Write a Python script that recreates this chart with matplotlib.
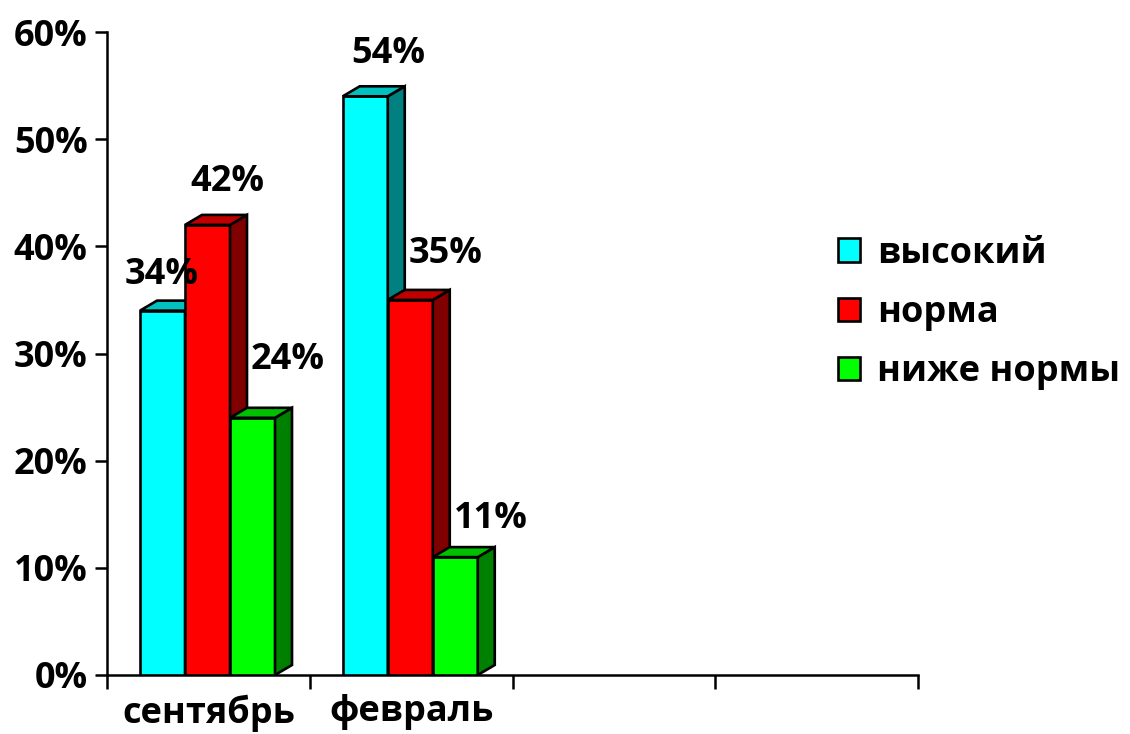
import matplotlib.pyplot as plt
from matplotlib.patches import Polygon, Patch
from matplotlib.ticker import FixedLocator, FuncFormatter

plt.rcParams['font.family'] = ['Open Sans', 'DejaVu Sans']
FW = 'bold'
FS = 26

categories = ['сентябрь', 'февраль', '', '']
series = ['высокий', 'норма', 'ниже нормы']
values = {
    'высокий': [34, 54],
    'норма': [42, 35],
    'ниже нормы': [24, 11],
}
front = ['#00FFFF', '#FF0000', '#00FF00']
top = ['#00C0C0', '#C00000', '#00C000']
side = ['#008080', '#800000', '#008000']
# label offsets in pixels from the top centre of each bar's front face
lab_dx = [[-1, 23], [20, 35], [35, 36]]
lab_dy = [[36, 42], [43, 46], [58, 38]]

W, H = 1130, 734
fig = plt.figure(figsize=(W / 100, H / 100), dpi=100)
x0, x1, y0, y1 = 107, 918, 675, 32
ax = fig.add_axes([x0 / W, 1 - y0 / H, (x1 - x0) / W, (y0 - y1) / H])
ax.set_xlim(0, 4)
ax.set_ylim(0, 60)

px_x = 4 / (x1 - x0)
px_y = 60 / (y0 - y1)
dx, dy = 17 * px_x, 10 * px_y
width = 45 * px_x
start = 33 * px_x
lw = 1.9

for s, name in enumerate(series):
    for i, v in enumerate(values[name]):
        l = i + start + s * width
        r = l + width
        z = 3 + s * 2 + i
        ax.bar(l, v, width=width, align='edge', color=front[s],
               edgecolor='black', linewidth=lw, zorder=z)
        ax.add_patch(Polygon([(r, 0), (r + dx, dy), (r + dx, v + dy), (r, v)],
                             closed=True, facecolor=side[s], edgecolor='black',
                             linewidth=lw, zorder=z, joinstyle='miter'))
        ax.add_patch(Polygon([(l, v), (l + dx, v + dy), (r + dx, v + dy), (r, v)],
                             closed=True, facecolor=top[s], edgecolor='black',
                             linewidth=lw, zorder=z, joinstyle='miter'))
        ax.annotate(f'{v}%', (l + width / 2, v), xytext=(lab_dx[s][i], lab_dy[s][i]),
                    textcoords='offset pixels', ha='center', va='center',
                    fontsize=FS, fontweight=FW, zorder=20)

for sp in ['top', 'right']:
    ax.spines[sp].set_visible(False)
for sp in ['left', 'bottom']:
    ax.spines[sp].set_linewidth(1.8)

ax.set_yticks(range(0, 61, 10))
ax.yaxis.set_major_formatter(FuncFormatter(lambda v, p: f'{v:.0f}%'))
ax.tick_params(axis='y', length=9, width=1.8, pad=5, labelsize=FS)
ax.xaxis.set_major_locator(FixedLocator([0, 1, 2, 3, 4]))
ax.xaxis.set_major_formatter(FuncFormatter(lambda v, p: ''))
ax.xaxis.set_minor_locator(FixedLocator([0.5, 1.5, 2.5, 3.5]))
ax.set_xticklabels(categories, minor=True)
ax.tick_params(axis='x', which='major', length=10, width=1.8, direction='out')
ax.tick_params(axis='x', which='minor', length=0, pad=14, labelsize=FS)
for t in ax.get_xticklabels(minor=True) + ax.get_yticklabels():
    t.set_fontweight(FW)

handles = [Patch(facecolor=front[s], edgecolor='black', linewidth=lw) for s in range(3)]
fig.legend(handles, series, loc='center left', bbox_to_anchor=(838 / W, 1 - 313 / H),
           frameon=False, prop={'size': FS, 'weight': FW}, handlelength=0.62,
           handleheight=0.62, handletextpad=0.45, labelspacing=0.65,
           borderaxespad=0, borderpad=0)

fig.savefig('out.png', dpi=100)
